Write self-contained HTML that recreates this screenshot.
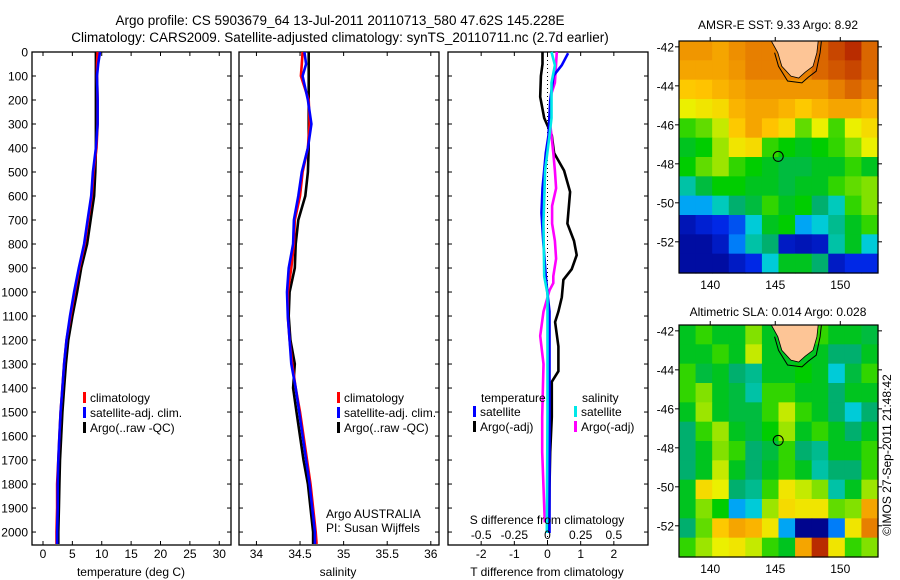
<!DOCTYPE html>
<html><head><meta charset="utf-8">
<style>
body{margin:0;background:#fff;}
svg{display:block;font-family:"Liberation Sans",sans-serif;}
text{fill:#000;}
</style></head>
<body>
<svg id="c" width="900" height="580" viewBox="0 0 900 580">
<text x="340" y="25" font-size="13.5" text-anchor="middle">Argo profile: CS 5903679_64 13-Jul-2011 20110713_580 47.62S 145.228E</text>
<text x="340" y="42" font-size="13.5" text-anchor="middle">Climatology: CARS2009. Satellite-adjusted climatology: synTS_20110711.nc (2.7d earlier)</text>
<text x="778" y="29" font-size="12" text-anchor="middle">AMSR-E SST: 9.33 Argo: 8.92</text>
<text x="778" y="316" font-size="12" text-anchor="middle">Altimetric SLA: 0.014 Argo: 0.028</text>
<text transform="translate(891,455) rotate(-90)" font-size="12" text-anchor="middle">©IMOS 27-Sep-2011 21:48:42</text>
<g id="g"></g>
</svg>
<script>
// ---- data ----
const depthTicks=[0,100,200,300,400,500,600,700,800,900,1000,1100,1200,1300,1400,1500,1600,1700,1800,1900,2000];
const tempTicks=[0,5,10,15,20,25,30];
const salTicks=[34,34.5,35,35.5,36];
const tdTicks=[-2,-1,0,1,2];
const sdTicks=[-0.5,-0.25,0,0.25,0.5];
const sdTickLabels=["-0.5","-0.25","0","0.25","0.5"];
const profDepth=[0,50,100,200,300,400,500,600,700,800,900,1000,1100,1200,1300,1400,1500,1600,1700,1800,1900,2000,2050];
const tempArgo=[9.0,9.0,9.0,9.0,9.0,9.0,8.9,8.7,8.1,7.5,6.5,5.8,5.0,4.3,3.9,3.6,3.3,3.1,2.9,2.8,2.7,2.6,2.6];
const tempSat=[9.7,9.4,9.2,9.3,9.3,9.0,8.5,8.2,7.6,7.0,6.1,5.3,4.6,4.0,3.6,3.3,3.0,2.8,2.6,2.5,2.5,2.4,2.4];
const tempClim=[9.3,9.2,9.2,9.3,9.3,9.1,8.6,8.3,7.7,7.1,6.2,5.4,4.7,4.0,3.6,3.3,3.0,2.8,2.6,2.4,2.4,2.3,2.3];
const salArgo=[34.60,34.60,34.60,34.60,34.60,34.60,34.59,34.56,34.48,34.45,34.44,34.38,34.37,34.39,34.44,34.42,34.46,34.50,34.54,34.59,34.62,34.65,34.65];
const salSat=[34.55,34.57,34.53,34.59,34.63,34.59,34.52,34.48,34.43,34.42,34.37,34.35,34.36,34.38,34.40,34.45,34.49,34.53,34.57,34.61,34.64,34.67,34.67];
const salClim=[34.53,34.52,34.51,34.60,34.61,34.59,34.53,34.50,34.44,34.43,34.40,34.36,34.36,34.38,34.41,34.45,34.50,34.54,34.58,34.62,34.65,34.68,34.69];
const tdArgoDepth=[0,50,100,187,275,347,421,494,583,715,787,846,905,949,1022,1081,1125,1227,1330,1374,1520,1667,1813,1960,2004];
const tdArgo=[-0.15,-0.15,-0.2,-0.22,-0.1,0.13,0.2,0.5,0.68,0.6,0.8,0.88,0.73,0.48,0.43,0.33,0.23,0.33,0.33,0.13,0.13,0.08,0.06,0.05,0.05];
const tdSatDepth=[5,55,99,202,348,421,568,670,787,934,1007,1081,2004];
const tdSat=[0.62,0.43,0.18,0.08,0.03,-0.05,-0.15,-0.18,-0.13,-0.05,0,0.06,0.06];
const sdSatDepth=[0,55,128,275,348,494,715,934,1007,1500,2004];
const sdSat=[0.03,0.056,0.03,0.03,0.015,-0.018,-0.03,-0.025,0,0,-0.005];
const sdArgoDepth=[0,128,172,275,348,421,494,568,641,715,787,861,934,963,993,1081,1183,1300,1520,1667,1813,1960];
const sdArgo=[0.07,0.056,0.03,0.015,0.03,0.044,0.056,0.065,0.035,0.035,0.056,0.065,0.044,0.044,0.015,-0.03,-0.055,-0.03,-0.04,-0.04,-0.03,-0.02];
const mapLonTicks=[140,145,150];
const mapLatTicks=[-42,-44,-46,-48,-50,-52];
const argoLon=145.228, argoLat=-47.62;
const sstGrid=[
[.82,.82,.8,.83,.85,.85,.85,.85,.88,.92,.95,.88],
[.8,.8,.8,.82,.85,.85,.85,.85,.88,.9,.92,.88],
[.75,.76,.78,.8,.82,.82,.82,.82,.82,.85,.88,.85],
[.68,.7,.72,.78,.8,.8,.78,.75,.78,.8,.8,.78],
[.55,.58,.65,.75,.8,.76,.72,.58,.68,.56,.68,.72],
[.5,.52,.62,.7,.72,.55,.52,.5,.52,.55,.6,.68],
[.52,.58,.62,.55,.52,.5,.48,.48,.5,.5,.55,.5],
[.4,.48,.52,.52,.5,.5,.48,.5,.5,.55,.58,.6],
[.3,.3,.38,.45,.48,.55,.5,.52,.45,.38,.55,.6],
[.08,.12,.15,.2,.35,.5,.52,.3,.35,.42,.5,.55],
[.05,.05,.1,.25,.4,.45,.1,.08,.1,.4,.5,.35],
[.05,.05,.05,.1,.15,.35,.5,.5,.45,.1,.15,.15]];
const slaGrid=[
[.5,.55,.5,.5,.6,.5,.5,.5,.55,.5,.5,.48],
[.5,.5,.55,.5,.65,.5,.5,.5,.5,.45,.45,.5],
[.55,.48,.5,.45,.42,.5,.5,.52,.5,.35,.48,.55],
[.55,.6,.5,.48,.4,.55,.55,.5,.5,.45,.5,.5],
[.5,.62,.5,.48,.48,.55,.65,.55,.5,.45,.35,.45],
[.45,.55,.62,.5,.48,.52,.62,.5,.55,.5,.45,.5],
[.45,.5,.6,.55,.45,.48,.55,.45,.42,.5,.5,.55],
[.45,.5,.65,.5,.45,.5,.55,.5,.4,.45,.45,.55],
[.5,.72,.68,.45,.42,.55,.7,.65,.6,.4,.5,.62],
[.5,.6,.52,.3,.35,.62,.72,.7,.7,.58,.6,.8],
[.45,.58,.75,.8,.78,.7,.3,.02,.02,.25,.7,.85],
[.55,.62,.68,.7,.65,.55,.5,.8,.95,.7,.55,.6]];
const tasLon=[144.7,148.3,148.2,147.9,147.3,146.8,146.2,145.5,145.2];
const tasLat=[-41.7,-41.7,-42.3,-43.0,-43.3,-43.6,-43.5,-43.0,-42.3];

// ---- drawing ----
const NS="http://www.w3.org/2000/svg";
const G=document.getElementById('g');
function el(tag,attrs,parent){const e=document.createElementNS(NS,tag);for(const k in attrs)e.setAttribute(k,attrs[k]);(parent||G).appendChild(e);return e;}
const Y0=52,Y1=545,D0=0,D1=2054;
function yD(d){return Y0+(d-D0)/(D1-D0)*(Y1-Y0);}

const panels=[
 {x0:32,x1:231,min:-1.87,max:32.0,ticks:tempTicks,labels:tempTicks.map(String),title:"temperature (deg C)",name:"temperature-panel",tx:131},
 {x0:239,x1:439,min:33.80,max:36.094,ticks:salTicks,labels:salTicks.map(String),title:"salinity",name:"salinity-panel",tx:338},
 {x0:448,x1:648,min:-3.0,max:3.03,ticks:tdTicks,labels:tdTicks.map(String),title:"T difference from climatology",name:"difference-panel",tx:547}
];
function xf(p,v){return p.x0+(v-p.min)/(p.max-p.min)*(p.x1-p.x0);}
panels.forEach((p,i)=>{
  const r=el('rect',{x:p.x0,y:Y0,width:p.x1-p.x0,height:Y1-Y0,fill:'none',stroke:'#000','stroke-width':1.3});
  
  
  depthTicks.forEach(d=>{
    const y=yD(d);
    const t1=el('line',{x1:p.x0,x2:p.x0+4,y1:y,y2:y,stroke:'#000'});
    
    
    const t2=el('line',{x1:p.x1,x2:p.x1-4,y1:y,y2:y,stroke:'#000'});
    
    
    if(i===0){const t=el('text',{x:28,y:y+4.5,'font-size':12,'text-anchor':'end'});t.textContent=d;
      
      }
  });
  p.ticks.forEach((v,k)=>{
    const x=xf(p,v);
    const a=el('line',{x1:x,x2:x,y1:Y0,y2:Y0+4,stroke:'#000'});
    
    
    const b=el('line',{x1:x,x2:x,y1:Y1,y2:Y1-4,stroke:'#000'});
    
    
    const t=el('text',{x:x,y:558,'font-size':12,'text-anchor':'middle'});t.textContent=p.labels[k];
    
    
  });
  const tt=el('text',{x:p.tx,y:576,'font-size':12,'text-anchor':'middle'});tt.textContent=p.title;
  
  
});
function line(p,vals,depths,color,name,scale){
  const pts=vals.map((v,k)=>xf(p,v*(scale||1)).toFixed(1)+','+yD(depths[k]).toFixed(1)).join(' ');
  const l=el('polyline',{points:pts,fill:'none',stroke:color,'stroke-width':2.6,'stroke-linejoin':'miter'});
  
  
}
const P1=panels[0],P2=panels[1],P3=panels[2];
line(P1,tempArgo,profDepth,'#000','temp-argo-line');
line(P1,tempClim,profDepth,'#f00','temp-climatology-line');
line(P1,tempSat,profDepth,'#0000ff','temp-satellite-line');
line(P2,salArgo,profDepth,'#000','sal-argo-line');
line(P2,salClim,profDepth,'#f00','sal-climatology-line');
line(P2,salSat,profDepth,'#0000ff','sal-satellite-line');
const zl=el('line',{x1:xf(P3,0),x2:xf(P3,0),y1:Y0,y2:Y1,stroke:'#000','stroke-dasharray':'1,3'});


line(P3,tdArgo,tdArgoDepth,'#000','t-diff-argo-line');
line(P3,sdArgo,sdArgoDepth,'#ff00ff','s-diff-argo-line',4);
line(P3,tdSat,tdSatDepth,'#0000ff','t-diff-satellite-line');
line(P3,sdSat,sdSatDepth,'#00e8e8','s-diff-satellite-line',4);
sdTicks.forEach((v,k)=>{
  const t=el('text',{x:xf(P3,v*4),y:539,'font-size':12,'text-anchor':'middle'});t.textContent=sdTickLabels[k];
  
  
});
const st=el('text',{x:547,y:524,'font-size':12,'text-anchor':'middle'});st.textContent="S difference from climatology";



function legend(x,y,color,label,name){
  const r=el('rect',{x:x,y:y-10,width:3,height:11,fill:color});
  
  
  const t=el('text',{x:x+7,y:y,'font-size':12});t.textContent=label;
  
  
}
legend(83,402,'#f00','climatology','legend-climatology');
legend(83,417,'#0000ff','satellite-adj. clim.','legend-satellite');
legend(83,432,'#000','Argo(..raw -QC)','legend-argo');
legend(337,402,'#f00','climatology','legend-climatology-2');
legend(337,417,'#0000ff','satellite-adj. clim.','legend-satellite-2');
legend(337,432,'#000','Argo(..raw -QC)','legend-argo-2');
[["temperature",481,402],["salinity",582,402]].forEach(a=>{const t=el('text',{x:a[1],y:a[2],'font-size':12});t.textContent=a[0];
  
  });
legend(473,416,'#0000ff','satellite','legend-t-satellite');
legend(473,431,'#000','Argo(-adj)','legend-t-argo');
legend(574,416,'#00e8e8','satellite','legend-s-satellite');
legend(574,431,'#ff00ff','Argo(-adj)','legend-s-argo');
const a1=el('text',{x:326,y:518,'font-size':12});a1.textContent="Argo AUSTRALIA";


const a2=el('text',{x:326,y:532,'font-size':12});a2.textContent="PI: Susan Wijffels";



// maps
const stops=[[0,[0,0,128]],[0.15,[0,40,230]],[0.28,[0,150,255]],[0.36,[0,210,210]],[0.45,[0,175,110]],[0.52,[0,205,0]],[0.6,[130,225,0]],[0.68,[235,240,0]],[0.76,[255,195,0]],[0.84,[235,135,0]],[0.92,[200,70,0]],[1,[160,0,0]]];
function cmap(v){for(let i=1;i<stops.length;i++){if(v<=stops[i][0]){const a=stops[i-1],b=stops[i],t=(v-a[0])/(b[0]-a[0]);return 'rgb('+a[1].map((c,j)=>Math.round(c+(b[1][j]-c)*t)).join(',')+')';}}return 'rgb(160,0,0)';}
function drawMap(top,bottom,grid,name){
  const L=679,R=878,lon0=137.6,lon1=152.9,lat0=-41.7,lat1=-53.6;
  const lx=lon=>L+(lon-lon0)/(lon1-lon0)*(R-L);
  const ly=lat=>top+(lat-lat0)/(lat1-lat0)*(bottom-top);
  const rows=grid.length,cols=grid[0].length,cw=(R-L)/cols,ch=(bottom-top)/rows;
  grid.forEach((row,r)=>row.forEach((v,c)=>{
    const cell=el('rect',{x:L+c*cw,y:top+r*ch,width:cw+0.6,height:ch+0.6,fill:cmap(v)});
    
    
  }));
  const cont=tasLon.map((lo,k)=>lx(lo+(lo<146.7?-0.25:0.25)).toFixed(1)+','+ly(tasLat[k]-(k>=3&&k<=6?0.25:0)).toFixed(1)).join(' ');
  const c=el('polyline',{points:cont,fill:'none',stroke:'#000','stroke-width':1});
  
  
  const land=el('polygon',{points:tasLon.map((lo,k)=>lx(lo).toFixed(1)+','+ly(tasLat[k]).toFixed(1)).join(' '),fill:'#fdc596',stroke:'#000','stroke-width':0.8});
  
  
  const fr=el('rect',{x:L,y:top,width:R-L,height:bottom-top,fill:'none',stroke:'#000','stroke-width':1.2});
  
  
  mapLonTicks.forEach(lo=>{
    const x=lx(lo);
    const t1=el('line',{x1:x,x2:x,y1:top,y2:top-4,stroke:'#000'});
    
    
    const t=el('text',{x:x,y:bottom+16,'font-size':12,'text-anchor':'middle'});t.textContent=lo;
    
    
  });
  mapLatTicks.forEach(la=>{
    const y=ly(la);
    const t1=el('line',{x1:L,x2:L-4,y1:y,y2:y,stroke:'#000'});
    
    
    const t2=el('line',{x1:R,x2:R+4,y1:y,y2:y,stroke:'#000'});
    
    
    const t=el('text',{x:L-5,y:y+4.5,'font-size':12,'text-anchor':'end'});t.textContent=la;
    
    
  });
  const ci=el('circle',{cx:lx(argoLon),cy:ly(argoLat),r:5,fill:'none',stroke:'#000','stroke-width':1});
  
  
}
drawMap(41,273,sstGrid,'sst-map');
drawMap(325,557,slaGrid,'sla-map');
</script>
</body></html>
